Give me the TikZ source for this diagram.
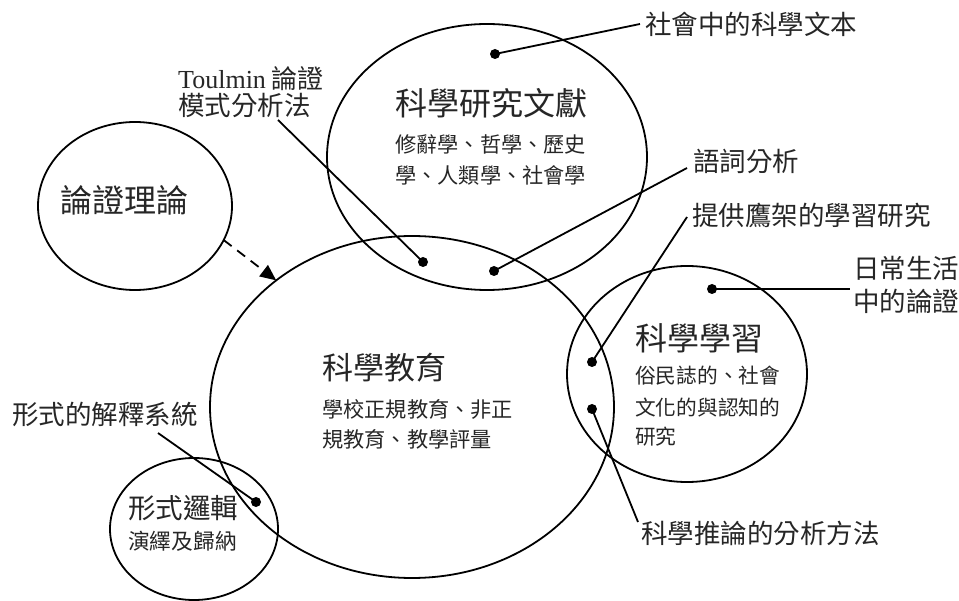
\documentclass[tikz,border=0pt]{standalone}
\usepackage{fontspec}
\setmainfont{Noto Sans CJK TC}
\newfontfamily\lat{Liberation Serif}
\usetikzlibrary{shapes.geometric,arrows.meta}
\tikzset{
  ell/.style={draw, ellipse, line width=1.8pt, inner sep=0pt, outer sep=0pt},
  dotn/.style={circle, fill=black, inner sep=0pt, minimum size=10pt},
  conn/.style={line width=1.8pt},
  txt/.style={anchor=base west, inner sep=0pt, text=black!85},
  lab/.style={txt, font=\fontsize{26.5}{26.5}\selectfont},
  ttl/.style={txt, font=\fontsize{32}{32}\selectfont},
  sub/.style={txt, font=\fontsize{21.2}{21.2}\selectfont}
}
\begin{document}
\begin{tikzpicture}[x=1pt,y=-1pt]
\useasboundingbox (0,0) rectangle (959,601);
\fill[white] (0,0) rectangle (959,601);
% ellipses
\node[ell, minimum width=194pt, minimum height=168pt] (eA) at (135,206) {};
\node[ell, minimum width=320pt, minimum height=266pt] (eL) at (487,157) {};
\node[ell, minimum width=404pt, minimum height=342pt] (eB) at (412,407) {};
\node[ell, minimum width=240pt, minimum height=216pt] (eS) at (687,374) {};
\node[ell, minimum width=168pt, minimum height=142pt] (eF) at (194,529) {};
% dashed arrow
\draw[conn, dash pattern=on 10pt off 7pt, -{Triangle[length=16pt,width=14pt]}] (eA.-21) -- (eB.137);
% texts
\node[ttl] (tA) at (60,213) {論證理論};
\node[ttl] (tL) at (395,116) {科學研究文獻};
\node[sub] (sL1) at (395,153) {修辭學、哲學、歷史};
\node[sub] (sL2) at (395,184) {學、人類學、社會學};
\node[ttl, font=\fontsize{31}{31}\selectfont] (tB) at (322,380) {科學教育};
\node[sub] (sB1) at (322,418) {學校正規教育、非正};
\node[sub] (sB2) at (322,448) {規教育、教學評量};
\node[ttl] (tS) at (635,351) {科學學習};
\node[sub, font=\fontsize{20.7}{20.7}\selectfont] (sS1) at (635,384) {俗民誌的、社會};
\node[sub, font=\fontsize{20.7}{20.7}\selectfont] (sS2) at (635,416) {文化的與認知的};
\node[sub, font=\fontsize{20.7}{20.7}\selectfont] (sS3) at (635,445) {研究};
\node[ttl, font=\fontsize{27.5}{27.5}\selectfont] (tF) at (128,518.5) {形式邏輯};
\node[sub, font=\fontsize{21.7}{21.7}\selectfont] (sF) at (128,549) {演繹及歸納};
% labels
\node[lab] (l1) at (645,35) {社會中的科學文本};
\node[lab, font=\fontsize{26}{26}\selectfont] (l2a) at (178,89) {{\lat Toulmin} 論證};
\node[lab] (l2b) at (178,116) {模式分析法};
\node[lab] (l3) at (693,172) {語詞分析};
\node[lab] (l4) at (692,226) {提供鷹架的學習研究};
\node[lab] (l5a) at (853,279) {日常生活};
\node[lab] (l5b) at (853,312) {中的論證};
\node[lab] (l6) at (641,543) {科學推論的分析方法};
\node[lab] (l7) at (12,425) {形式的解釋系統};
% dots
\node[dotn] (d1) at (495,54) {};
\node[dotn] (d2) at (423,262) {};
\node[dotn] (d3) at (494,271) {};
\node[dotn] (d4) at (592,362) {};
\node[dotn] (d5) at (712,289) {};
\node[dotn] (d6) at (592,409) {};
\node[dotn] (d7) at (256,502) {};
% connector free ends
\coordinate (c1) at (640,24);
\coordinate (c2) at (278,120);
\coordinate (c3) at (687,168);
\coordinate (c4) at (687,217);
\coordinate (c5) at (850,289);
\coordinate (c6) at (638,522);
\coordinate (c7) at (158,433);
\draw[conn] (d1.center) -- (c1);
\draw[conn] (d2.center) -- (c2);
\draw[conn] (d3.center) -- (c3);
\draw[conn] (d4.center) -- (c4);
\draw[conn] (d5.center) -- (c5);
\draw[conn] (d6.center) -- (c6);
\draw[conn] (d7.center) -- (c7);
\end{tikzpicture}
\end{document}
